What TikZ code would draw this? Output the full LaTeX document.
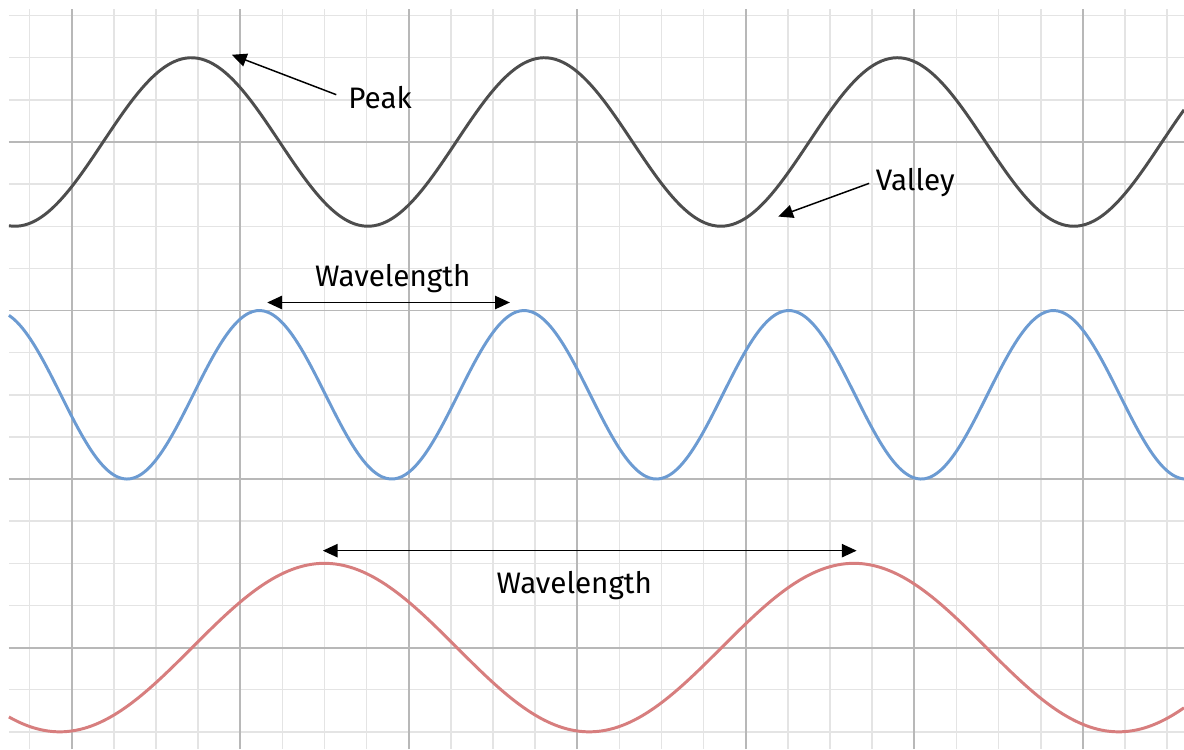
\documentclass[tikz,border=0pt]{standalone}
\usepackage{fontspec}
\setmainfont{Fira Sans}
\usetikzlibrary{arrows.meta}
\definecolor{gitterfein}{HTML}{E4E4E4}
\definecolor{gitterhaupt}{HTML}{B8B8B8}
\definecolor{wellegrau}{HTML}{4D4D4D}
\definecolor{welleblau}{HTML}{6C9BD2}
\definecolor{wellerot}{HTML}{D77E7E}
\begin{document}
\begin{tikzpicture}[>={Triangle[length=10pt,width=9pt]},
  welle/.style={line width=2pt,line join=round},
  pfeil/.style={line width=1pt},
  schrift/.style={font=\fontsize{20}{24}\selectfont}]
% Bildrahmen wie die Vorlage
\useasboundingbox (-1.702,-14.408) rectangle (26.40,3.370);
% Feines Gitter (Kaestchen = 1)
\foreach \x in {-1,...,26} \draw[gitterfein,line width=1pt] (\x,-14.408) -- (\x,3.157);
\foreach \y in {-14,...,3} \draw[gitterfein,line width=1pt] (-1.49,\y) -- (26.40,\y);
% Hauptlinien (alle 4 Kaestchen)
\foreach \x in {0,4,...,24} \draw[gitterhaupt,line width=1.3pt] (\x,-14.408) -- (\x,3.157);
\foreach \y in {0,-4,-8,-12} \draw[gitterhaupt,line width=1.3pt] (-1.49,\y) -- (26.40,\y);
% Wellen: grau (Periode 8pi/3), blau (2pi), rot (4pi)
\draw[welle,wellegrau] plot[domain=-1.49:26.40,samples=300,smooth]
  (\x,{2*cos(0.75*(\x-2.84) r)});
\draw[welle,welleblau] plot[domain=-1.49:26.40,samples=300,smooth]
  (\x,{-6+2*cos((\x-17.02) r)});
\draw[welle,wellerot] plot[domain=-1.49:26.40,samples=300,smooth]
  (\x,{-12+2*cos(0.5*(\x-6) r)});
% Beschriftungen
\node[schrift] (peak)   at (7.32,1.06)    {Peak};
\node[schrift] (valley) at (20.02,-0.97)  {Valley};
\node[schrift] (wlblau) at (7.62,-3.24)   {Wavelength};
\node[schrift] (wlrot)  at (11.93,-10.53) {Wavelength};
% Pfeilspitzen und Pfeilenden
\coordinate (peakspitze) at (3.80,2.07);
\coordinate (talspitze)  at (16.77,-1.77);
\coordinate (blaulinks)  at (4.64,-3.81);
\coordinate (blaurechts) at (10.40,-3.81);
\coordinate (rotlinks)   at (5.96,-9.70);
\coordinate (rotrechts)  at (18.63,-9.70);
% Pfeile
\draw[pfeil,->,shorten <=5pt] (peak.west) -- (peakspitze);
\draw[pfeil,->,shorten <=1pt] (valley.west) -- (talspitze);
\draw[pfeil,<->] (blaulinks) -- (blaurechts);
\draw[pfeil,<->] (rotlinks) -- (rotrechts);
\end{tikzpicture}
\end{document}
